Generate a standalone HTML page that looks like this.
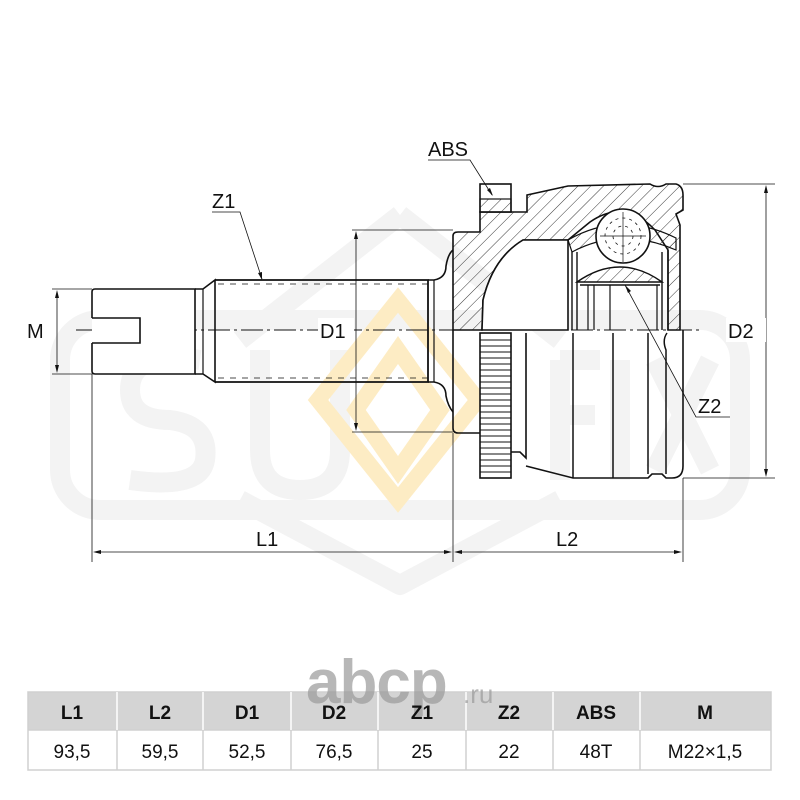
<!DOCTYPE html>
<html><head><meta charset="utf-8">
<style>
html,body{margin:0;padding:0;background:#fff;}
body{width:800px;height:800px;overflow:hidden;position:relative;font-family:"Liberation Sans","DejaVu Sans",sans-serif;}
svg{position:absolute;left:0;top:0;}
</style></head><body>
<svg width="800" height="800" viewBox="0 0 800 800" xmlns="http://www.w3.org/2000/svg">
<defs>
<pattern id="h" patternUnits="userSpaceOnUse" width="9" height="9" patternTransform="rotate(45)">
<line x1="0" y1="0" x2="0" y2="9" stroke="#222" stroke-width="0.9"/>
</pattern>
</defs>
<!-- watermark -->
<g fill="none" stroke="#f3f3f3" stroke-width="20" stroke-linejoin="round">
<rect x="60" y="320" width="680" height="190" rx="40"/>
<path d="M400 215 L560 340 M400 215 L240 340 M240 500 L400 585 L560 500"/>
<path d="M200 360 Q130 350 130 390 Q130 420 170 420 Q210 425 205 460 Q200 490 130 480 M260 350 L260 450 Q260 490 300 490 Q340 490 340 450 L340 350 M560 360 L560 480 M560 360 L600 360 M560 415 L595 415 M620 360 L620 480 M655 360 L710 470 M710 360 L655 470"/>
</g>
<g fill="none" stroke="#fdecc4" stroke-width="16">
<path d="M398 300 L478 400 L398 500 L318 400 Z"/>
<path d="M398 350 L440 410 L398 470 L356 410 Z"/>
</g>

<g stroke="#111" fill="none" stroke-width="1.2">
<line x1="76" y1="330" x2="700" y2="330" stroke-dasharray="22,4,3,4" stroke-width="0.9"/>
<!-- shaft threaded end -->
<path d="M92 318 L92 292 Q92 289 95 289 L195 289 L195 374 L95 374 Q92 374 92 371 L92 343" stroke-width="1.6" fill="#fff"/>
<path d="M92 318 L140 318 L140 343 L92 343" stroke-width="1.6"/>
<path d="M195 289 L203 289 L215 280 L215 382 L203 374 L195 374" stroke-width="1.6"/>
<line x1="203" y1="289" x2="203" y2="374"/>
<path d="M215 280 L428 280 L428 382 L215 382" stroke-width="1.8"/>
<line x1="218" y1="284" x2="428" y2="284" stroke-dasharray="6,6" stroke-width="0.8"/>
<line x1="218" y1="378" x2="428" y2="378" stroke-dasharray="6,6" stroke-width="0.8"/>
<path d="M428 280 L434 280 Q446 278 446 266 Q448 254 453 250" stroke-width="1.6"/>
<path d="M428 382 L434 382 Q446 384 446 396 Q448 406 453 412" stroke-width="1.6"/>
<line x1="434" y1="280" x2="434" y2="382"/>
<!-- housing hatched -->
<path d="M453 330 L453 236 Q453 232 458 232 L480 232 L480 212 L527 212 L527 195 L568 186 L650 184 Q658 189 666 184 L676 184 Q683 186 683 195 L683 210 L676 214 L680 225 L680 330 L668 330 L668 250 L655 230 Q625 198 590 222 L568 240 L523 240 Q493 258 483 300 L482 330 Z" fill="url(#h)" stroke-width="1.6"/>
<rect x="480" y="184" width="31" height="28" fill="#fff" stroke-width="1.6"/>
<rect x="480" y="199" width="31" height="13" fill="url(#h)" stroke-width="1.2"/>
<path d="M482 330 L483 300 Q493 258 523 240 L568 240 L568 330 Z" fill="#fff" stroke-width="1.6"/>
<path d="M568 240 Q620 210 676 238 L676 250 Q620 226 572 252 Z" fill="url(#h)" stroke-width="1.2"/>
<path d="M572 252 L572 330 M577 252 L577 330 M668 250 L668 330 M662 252 L662 330" stroke-width="1.4"/>
<path d="M577 282 Q620 252 662 282 Z" fill="url(#h)" stroke-width="1.4"/>
<path d="M580 285 L660 285" stroke-width="1.4"/>
<path d="M588 285 L588 330 M594 285 L594 330 M610 285 L610 330 M657 285 L657 330" stroke-width="1.2"/>
<circle cx="623" cy="236" r="27" fill="#fff" stroke-width="1.6"/>
<circle cx="623" cy="236" r="18" stroke-dasharray="3,4" stroke-width="0.8"/>
<circle cx="623" cy="236" r="10" stroke-dasharray="3,4" stroke-width="0.8"/>
<line x1="600" y1="236" x2="646" y2="236" stroke-width="0.7"/>
<line x1="623" y1="212" x2="623" y2="262" stroke-width="0.7"/>
<!-- lower half -->
<path d="M453 330 L453 428 Q453 433 458 433 L480 433" stroke-width="1.6"/>
<rect x="480" y="333" width="31" height="145" fill="#fff" stroke-width="1.6"/>
<g stroke-width="1.1">
<line x1="480" y1="340" x2="511" y2="340"/><line x1="480" y1="346" x2="511" y2="346"/>
<line x1="480" y1="352" x2="511" y2="352"/><line x1="480" y1="358" x2="511" y2="358"/>
<line x1="480" y1="364" x2="511" y2="364"/><line x1="480" y1="370" x2="511" y2="370"/>
<line x1="480" y1="376" x2="511" y2="376"/><line x1="480" y1="382" x2="511" y2="382"/>
<line x1="480" y1="388" x2="511" y2="388"/><line x1="480" y1="394" x2="511" y2="394"/>
<line x1="480" y1="400" x2="511" y2="400"/><line x1="480" y1="406" x2="511" y2="406"/>
<line x1="480" y1="412" x2="511" y2="412"/><line x1="480" y1="418" x2="511" y2="418"/>
<line x1="480" y1="424" x2="511" y2="424"/><line x1="480" y1="430" x2="511" y2="430"/>
<line x1="480" y1="436" x2="511" y2="436"/><line x1="480" y1="442" x2="511" y2="442"/>
<line x1="480" y1="448" x2="511" y2="448"/><line x1="480" y1="454" x2="511" y2="454"/>
<line x1="480" y1="460" x2="511" y2="460"/><line x1="480" y1="466" x2="511" y2="466"/>
<line x1="480" y1="472" x2="511" y2="472"/>
</g>
<path d="M511 452 L520 452 L526 458 L526 333" stroke-width="1.6"/>
<path d="M526 466 L573 478 L648 478 L652 474 L662 474 L666 478 L672 478 Q683 478 683 466 L683 330" stroke-width="1.6"/>
<path d="M573 333 L573 478 M613 333 L613 478 M648 333 L648 474 M667 333 Q662 340 666 350 L666 474" stroke-width="1.5"/>
</g>

<g stroke="#111" stroke-width="0.8" fill="none">
<line x1="52" y1="289" x2="92" y2="289"/><line x1="52" y1="374" x2="92" y2="374"/>
<line x1="57" y1="292" x2="57" y2="371"/>
<line x1="352" y1="230" x2="453" y2="230"/><line x1="352" y1="432" x2="453" y2="432"/>
<line x1="356" y1="233" x2="356" y2="429"/>
<line x1="683" y1="184" x2="775" y2="184"/><line x1="683" y1="478" x2="775" y2="478"/>
<line x1="766" y1="187" x2="766" y2="475"/>
<line x1="92" y1="374" x2="92" y2="562"/>
<line x1="453" y1="433" x2="453" y2="562"/>
<line x1="683" y1="478" x2="683" y2="562"/>
<line x1="95" y1="552" x2="450" y2="552"/>
<line x1="456" y1="552" x2="680" y2="552"/>
<path d="M212 212 L240 212 L262 279"/>
<path d="M428 160 L470 160 L492 195"/>
<path d="M730 417 L696 417 L625 285"/>
</g>
<g fill="#111">
<path d="M57 290 L55 298 L59 298 Z"/><path d="M57 373 L55 365 L59 365 Z"/>
<path d="M356 231 L354 239 L358 239 Z"/><path d="M356 431 L354 423 L358 423 Z"/>
<path d="M766 185 L764 193 L768 193 Z"/><path d="M766 477 L764 469 L768 469 Z"/>
<path d="M93 552 L101 550 L101 554 Z"/><path d="M452 552 L444 550 L444 554 Z"/>
<path d="M454 552 L462 550 L462 554 Z"/><path d="M682 552 L674 550 L674 554 Z"/>
<path d="M262 280 L258 273 L262 272 Z"/><path d="M493 196 L487 190 L490 188 Z"/><path d="M625 285 L631 291 L628 293 Z"/>
</g>
<g font-family="Liberation Sans, sans-serif" font-size="20" fill="#111">
<text x="27" y="338">M</text>
<rect x="318" y="318" width="36" height="24" fill="#fff"/>
<text x="320" y="338">D1</text>
<rect x="726" y="318" width="40" height="24" fill="#fff"/>
<text x="728" y="338">D2</text>
<text x="212" y="208">Z1</text>
<text x="428" y="156">ABS</text>
<text x="698" y="413">Z2</text>
<text x="256" y="546">L1</text>
<text x="556" y="546">L2</text>
</g>

<!-- table -->
<g>
<rect x="28" y="692" width="743" height="38" fill="#d4d4d4"/>
<rect x="28" y="692" width="743" height="78" fill="none" stroke="#d0d0d0" stroke-width="1.5"/>
<line x1="28" y1="730" x2="771" y2="730" stroke="#d0d0d0" stroke-width="1.5"/>
<g stroke="#fff" stroke-width="1.5">
<line x1="117" y1="692" x2="117" y2="730"/><line x1="203" y1="692" x2="203" y2="730"/>
<line x1="291" y1="692" x2="291" y2="730"/><line x1="378" y1="692" x2="378" y2="730"/>
<line x1="466" y1="692" x2="466" y2="730"/><line x1="553" y1="692" x2="553" y2="730"/>
<line x1="640" y1="692" x2="640" y2="730"/>
</g>
<g stroke="#d0d0d0" stroke-width="1.5">
<line x1="117" y1="730" x2="117" y2="770"/><line x1="203" y1="730" x2="203" y2="770"/>
<line x1="291" y1="730" x2="291" y2="770"/><line x1="378" y1="730" x2="378" y2="770"/>
<line x1="466" y1="730" x2="466" y2="770"/><line x1="553" y1="730" x2="553" y2="770"/>
<line x1="640" y1="730" x2="640" y2="770"/>
</g>
</g>
<!-- abcp watermark -->
<text x="306" y="703" font-family="Liberation Sans, sans-serif" font-weight="bold" font-size="62" fill="#9a9a9a" opacity="0.7" letter-spacing="-1">abcp</text>
<text x="463" y="703" font-family="Liberation Sans, sans-serif" font-size="26" fill="#9a9a9a" opacity="0.7">.ru</text>
<g font-family="Liberation Sans, sans-serif" font-size="19" font-weight="bold" fill="#111" text-anchor="middle">
<text x="72" y="719">L1</text><text x="160" y="719">L2</text><text x="247" y="719">D1</text>
<text x="334" y="719">D2</text><text x="422" y="719">Z1</text><text x="509" y="719">Z2</text>
<text x="596" y="719">ABS</text><text x="705" y="719">M</text>
</g>
<g font-family="Liberation Sans, sans-serif" font-size="19" fill="#111" text-anchor="middle">
<text x="72" y="758">93,5</text><text x="160" y="758">59,5</text><text x="247" y="758">52,5</text>
<text x="334" y="758">76,5</text><text x="422" y="758">25</text><text x="509" y="758">22</text>
<text x="596" y="758">48T</text><text x="705" y="758">M22×1,5</text>
</g>
</svg>
</body></html>
